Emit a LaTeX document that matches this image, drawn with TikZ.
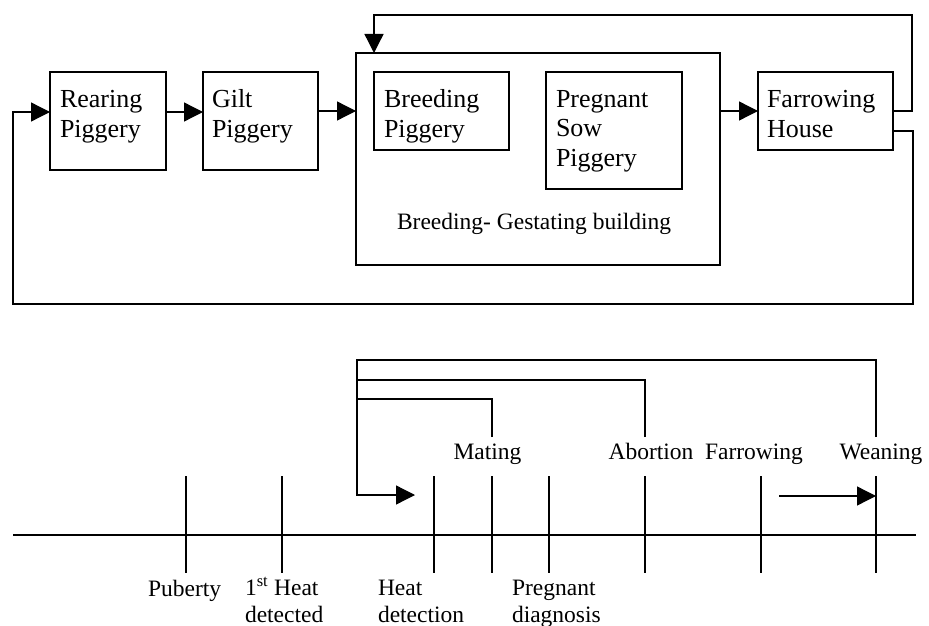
\documentclass[tikz,border=0pt]{standalone}
\usepackage{fontspec}
\setmainfont{Liberation Serif}
\usetikzlibrary{arrows.meta}
\begin{document}
\begin{tikzpicture}[x=1pt,y=-1pt,
  line width=1.3pt,
  every node/.style={inner sep=0pt, outer sep=0pt},
  unit/.style={draw, rectangle, anchor=north west},
  boxtext/.style={anchor=base west, align=left, font=\fontsize{26}{29.5}\selectfont},
  captext/.style={anchor=base west, font=\fontsize{23.5}{27}\selectfont},
  evtext/.style={anchor=base, font=\fontsize{23.5}{27}\selectfont},
  lowtext/.style={anchor=base west, align=left, font=\fontsize{23.5}{26.5}\selectfont},
  arr/.style={-{Triangle[length=19pt,width=19pt]}},
]
\useasboundingbox (0,0) rectangle (929,626);

% ---------- housing units ----------
\node[unit, minimum width=116pt, minimum height=98pt]  (rear)   at (50,72)  {};
\node[unit, minimum width=115pt, minimum height=98pt]  (gilt)   at (203,72) {};
\node[unit, minimum width=364pt, minimum height=212pt] (bg)     at (356,53) {};
\node[unit, minimum width=135pt, minimum height=78pt]  (breed)  at (374,72) {};
\node[unit, minimum width=136pt, minimum height=117pt] (preg)   at (546,72) {};
\node[unit, minimum width=135pt, minimum height=78pt]  (farrow) at (758,72) {};

% the base anchor of a multi-line node sits on its last line
\node[boxtext] (reartxt)   at (60,137)  {Rearing\\Piggery};
\node[boxtext] (gilttxt)   at (212,137) {Gilt\\Piggery};
\node[boxtext] (breedtxt)  at (384,137) {Breeding\\Piggery};
\node[boxtext] (pregtxt)   at (556,166) {Pregnant\\Sow\\Piggery};
\node[boxtext] (farrowtxt) at (767,137) {Farrowing\\House};
\node[captext] (bgtxt)     at (397,229) {Breeding- Gestating building};

% ---------- flow between units ----------
\draw[arr] (rear.east |- 0,112) -- (gilt.west |- 0,112);
\draw[arr] (gilt.east |- 0,111) -- (bg.west |- 0,111);
\draw[arr] (bg.east |- 0,111) -- (farrow.west |- 0,111);
\coordinate (loopTop) at (912,15);
\draw[arr] (farrow.east |- 0,111) -| (loopTop) -| (374,0 |- bg.north);
\coordinate (loopBot) at (913,304);
\draw[arr] (farrow.east |- 0,131) -| (loopBot) -| (13,112) -- (rear.west |- 0,112);

% ---------- reproductive time line ----------
\coordinate (tlA) at (13,535);
\coordinate (tlB) at (916,535);
\draw (tlA) -- (tlB);

\coordinate (puberty) at (186,535);
\coordinate (firstheat) at (282,535);
\coordinate (heatdet) at (434,535);
\coordinate (mating) at (492,535);
\coordinate (pregdiag) at (549,535);
\coordinate (abortion) at (645,535);
\coordinate (farrowing) at (761,535);
\coordinate (weaning) at (876,535);
\foreach \t in {puberty,firstheat,heatdet,mating,pregdiag,abortion,farrowing,weaning}
  \draw ([yshift=59pt]\t) -- ([yshift=-38pt]\t);

% return paths to heat detection
\coordinate (hub) at (357,360);
\draw[arr] (weaning |- 0,437) |- (hub) |- (415,495);
\draw (abortion |- 0,437) |- (357,380);
\draw (mating |- 0,437) |- (357,399);
\draw[arr] (779,496) -- (weaning |- 0,496);

% event labels
\node[evtext] (lmating)   at (487.5,459) {Mating};
\node[evtext] (labortion) at (651,459)   {Abortion};
\node[evtext] (lfarrow)   at (754,459)   {Farrowing};
\node[evtext] (lweaning)  at (881,459)   {Weaning};

\node[lowtext] (lpuberty)  at (148,596) {Puberty};
\node[lowtext] (lfirst)    at (245,622) {1\textsuperscript{st} Heat\\detected};
\node[lowtext] (lheatdet)  at (378,622) {Heat\\detection};
\node[lowtext] (lpregdiag) at (512,622) {Pregnant\\diagnosis};
\end{tikzpicture}
\end{document}
